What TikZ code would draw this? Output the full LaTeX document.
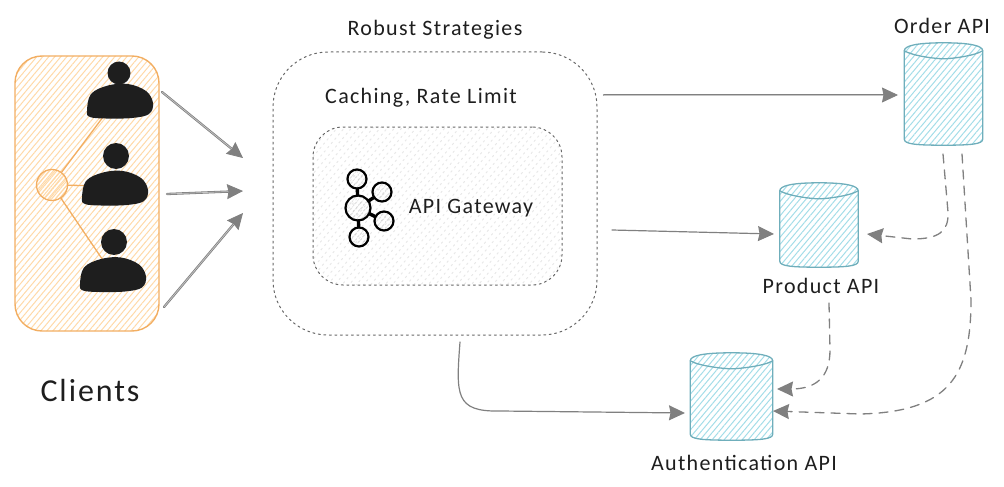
\documentclass[tikz,border=0pt]{standalone}
\usepackage{fontspec}
\newfontfamily\sketchfont[LetterSpace=6]{Carlito}
\usetikzlibrary{arrows.meta,patterns.meta}
\definecolor{clientline}{HTML}{F2AE62}
\definecolor{clienthatch}{HTML}{FFD9A8}
\definecolor{dbline}{HTML}{6FAEBB}
\definecolor{dbhatch}{HTML}{A3DDE8}
\definecolor{arrowgray}{HTML}{808080}
\definecolor{inkblack}{HTML}{1E1E1E}
\tikzset{
 labeltext/.style={text=inkblack, inner sep=0pt, font=\sketchfont\fontsize{22}{26}\selectfont},
 hatch/.style={pattern={Lines[angle=50,distance=4.6pt,line width=1pt]}, pattern color=#1},
 dbbox/.style={inner sep=0pt},
 dbshape/.style={draw=dbline, line width=1.3pt, hatch=dbhatch},
 flow/.style={->, draw=arrowgray, line width=.8pt, double=arrowgray!45, double distance=.7pt},
 flowthin/.style={->, draw=arrowgray, line width=1.2pt},
 depends/.style={->, draw=arrowgray, line width=1.3pt, dash pattern=on 9pt off 7pt},
 iconball/.style={circle, draw=black, line width=2.2pt, inner sep=0pt,
  pattern={Lines[angle=50,distance=4pt,line width=.7pt]}, pattern color=black!30},
 outline/.style={draw=black!60, line width=1pt, dash pattern=on 2pt off 3.5pt},
}
\begin{document}
\begin{tikzpicture}[x=1pt, y=-1pt, line join=round, line cap=round,
 >={Stealth[length=16pt,width=15pt,inset=1.5pt]}]
 \useasboundingbox (0,0) rectangle (1004,487);
 % clients
 \node [draw=clientline, line width=1.4pt, hatch=clienthatch, rounded corners=27pt, inner sep=0pt,
  minimum width=144pt, minimum height=275pt] (clients) at (87,193.5) {};
 \node [circle, draw=clientline, line width=1.3pt, pattern={Lines[angle=50,distance=2.8pt,line width=1pt]},
  pattern color=clienthatch, minimum size=31pt, inner sep=0pt] (hub) at (52,185) {};
 \coordinate (person1) at (115,101);
 \coordinate (person2) at (115,186);
 \coordinate (person3) at (113,275);
 \foreach \n in {1,2,3}
 \draw [draw=clientline, line width=1.3pt] (hub) -- (person\n);
 \foreach \n/\hx/\hy/\r/\bx/\by in {1/119/73/23/120/101, 2/116/156/26/115/188, 3/114/242/26/113/274.5}
 {
 \node [circle, fill=inkblack, minimum size=\r pt, inner sep=0pt] (head\n) at (\hx,\hy) {};
 \fill [inkblack, shift={(\bx,\by)}] plot[smooth cycle, tension=.6] coordinates
  {(-33,10) (-29,-7) (-12,-15.5) (8,-17) (26,-10) (33,2) (29,13) (12,17) (-14,17.5) (-30,16)};
 }
 \node [labeltext, font=\sketchfont\fontsize{32}{38}\selectfont] (clientsText) at (90,391) {Clients};
 % gateway
 \node [outline, rounded corners=55pt, minimum width=324pt, minimum height=283pt, inner sep=0pt] (robust) at (435,193.5) {};
 \node [labeltext] (robustText) at (435,30) {Robust Strategies};
 \node [labeltext] (cachingText) at (421,98) {Caching, Rate Limit};
 \node [outline, rounded corners=30pt, pattern={Lines[angle=50,distance=5.5pt,line width=1pt]}, pattern color=black!9,
  minimum width=249pt, minimum height=158pt, inner sep=0pt] (gateway) at (437.5,206) {};
 \node [iconball, minimum size=25pt] (iconHub) at (358,208) {};
 \foreach \n/\x/\y in {a/357/179, b/382/192, c/384/221, d/359/237}
 {
 \node [iconball, minimum size=19pt] (icon\n) at (\x,\y) {};
 \draw [line width=3.4pt] (iconHub) -- (icon\n);
 }
 \node [labeltext] (gatewayText) at (471,208) {API Gateway};
 % services
 \foreach \name/\x/\y/\w/\h in {order/943.5/94/78/102, product/819/225/78/84, auth/731.5/396.5/82/87}
 {
 \node [dbbox, minimum width=\w pt, minimum height=\h pt] (\name) at (\x,\y) {};
 \draw [dbshape] ([yshift=-8pt]\name.north west) -- ([yshift=6pt]\name.south west)
  .. controls ([yshift=1pt]\name.south west) and ([yshift=0pt,xshift=12pt]\name.south west) .. (\name.south)
  .. controls ([yshift=0pt,xshift=-12pt]\name.south east) and ([yshift=1pt]\name.south east) .. ([yshift=6pt]\name.south east)
  -- ([yshift=-8pt]\name.north east)
  .. controls ([yshift=-3pt]\name.north east) and ([xshift=-12pt]\name.north east) .. (\name.north)
  .. controls ([xshift=12pt]\name.north west) and ([yshift=-3pt]\name.north west) .. cycle;
 \draw [draw=dbline, line width=1.3pt] ([yshift=-8pt]\name.north west)
  .. controls ([yshift=-13pt,xshift=8pt]\name.north west) and ([yshift=-16pt,xshift=-8pt]\name.north) .. ([yshift=-16pt]\name.north)
  .. controls ([yshift=-16pt,xshift=8pt]\name.north) and ([yshift=-13pt,xshift=-8pt]\name.north east) .. ([yshift=-8pt]\name.north east);
 }
 \node [labeltext] (orderText) at (942,26) {Order API};
 \node [labeltext] (productText) at (821,286) {Product API};
 \node [labeltext] (authText) at (744,463) {Authentication API};
 % free ends of the connectors
 \coordinate (outA) at (162,92);
 \coordinate (outB) at (167,194);
 \coordinate (outC) at (164,307);
 \coordinate (inA) at (243,158);
 \coordinate (inB) at (243,191);
 \coordinate (inC) at (243,213);
 \coordinate (toOrder) at (604,95);
 \coordinate (atOrder) at (898,95);
 \coordinate (toProduct) at (612,230);
 \coordinate (atProduct) at (774,234);
 \coordinate (toAuth) at (460,342);
 \coordinate (atAuth) at (685,413);
 \coordinate (orderOutA) at (943,154);
 \coordinate (productIn) at (867,234);
 \coordinate (orderOutB) at (962,154);
 \coordinate (authInB) at (773,411);
 \coordinate (productOut) at (829,303);
 \coordinate (authInA) at (777,389);
 \draw [flow] (outA) -- (inA);
 \draw [flow] (outB) -- (inB);
 \draw [flow] (outC) -- (inC);
 \draw [flow] (toOrder) -- (atOrder);
 \draw [flowthin] (toProduct) -- (atProduct);
 \draw [flowthin] (toAuth) .. controls (456,395) and (455,412) .. (500,411) -- (atAuth);
 \draw [depends] (orderOutA) -- (948,212) .. controls (949,232) and (938,239) .. (912,239) -- (productIn);
 \draw [depends] (orderOutB) -- (971,300) .. controls (971,375) and (950,412) .. (860,414) -- (authInB);
 \draw [depends] (productOut) -- (830,350) .. controls (830,378) and (815,389) .. (authInA);
\end{tikzpicture}
\end{document}
